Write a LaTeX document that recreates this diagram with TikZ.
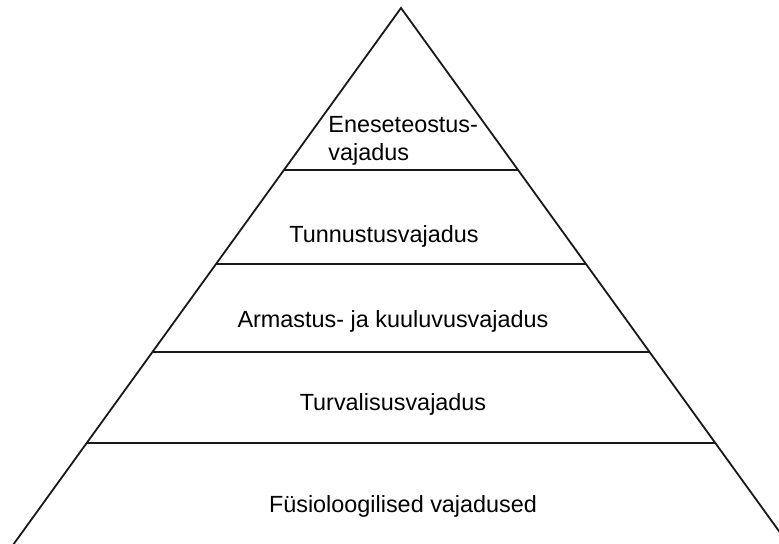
\documentclass[tikz,border=0pt]{standalone}
\usepackage{fontspec}
\setmainfont{Liberation Sans}
\usetikzlibrary{calc}

\tikzset{
  level/.style={anchor=base, font=\fontsize{11.7}{14}\selectfont, inner sep=0pt},
  pyrline/.style={line width=0.9pt, black!90}
}

\begin{document}
\begin{tikzpicture}[x=0.5pt, y=-0.5pt]

  % page
  \useasboundingbox (0,0) rectangle (779,544);
  \clip (0,0) rectangle (779,544);

  % pyramid corners
  \coordinate (apex) at (401,8);
  \coordinate (bl) at (13,545);
  \coordinate (br) at (789,545);
  \draw[pyrline, line join=miter] (bl) -- (apex) -- (br) -- cycle;

  % level dividers
  \foreach \pos/\lvl in {0.302/one, 0.476/two, 0.640/three, 0.810/four} {
    \coordinate (\lvl-w) at ($(apex)!\pos!(bl)$);
    \coordinate (\lvl-e) at ($(apex)!\pos!(br)$);
    \draw[pyrline] (\lvl-w) -- (\lvl-e);
  }

  % level labels
  \node[level, align=left, anchor=base west] (selfact) at (328,161) {Eneseteostus-\\vajadus};
  \node[level] (esteem) at (384,243) {Tunnustusvajadus};
  \node[level] (love) at (393,328) {Armastus- ja kuuluvusvajadus};
  \node[level] (safety) at (393,410) {Turvalisusvajadus};
  \node[level] (physio) at (403,512) {Füsioloogilised vajadused};

\end{tikzpicture}
\end{document}
